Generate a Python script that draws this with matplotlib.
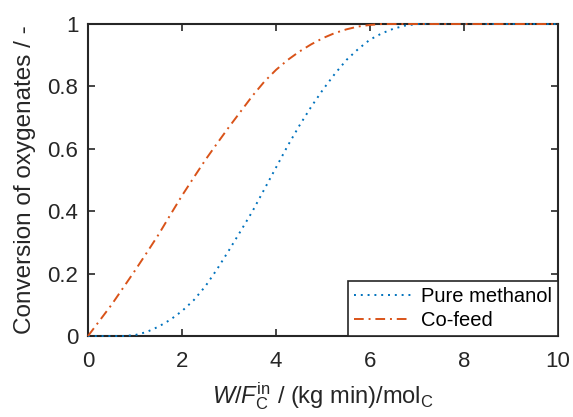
import matplotlib
matplotlib.use("Agg")
import matplotlib.pyplot as plt

# data
x_pure = [0, 0.5, 0.75, 1.0, 1.25, 1.5, 1.75, 2.0, 2.25, 2.5, 2.75, 3.0, 3.25, 3.5, 3.75, 4.0,
          4.25, 4.5, 4.75, 5.0, 5.25, 5.5, 5.75, 6.0, 6.25, 6.5, 6.75, 7.0, 8.0, 9.0, 10.0]
y_pure = [0, 0, 0, 0.003, 0.013, 0.03, 0.052, 0.08, 0.115, 0.16, 0.215, 0.275, 0.337, 0.40, 0.47, 0.54,
          0.61, 0.675, 0.735, 0.79, 0.84, 0.885, 0.92, 0.95, 0.97, 0.985, 0.995, 1.0, 1.0, 1.0, 1.0]

x_cofeed = [0, 0.25, 0.5, 0.75, 1.0, 1.25, 1.5, 1.75, 2.0, 2.25, 2.5, 2.75, 3.0, 3.25, 3.5, 3.75,
            4.0, 4.25, 4.5, 4.75, 5.0, 5.25, 5.5, 5.75, 6.0, 6.25, 7.0, 8.0, 9.0, 10.0]
y_cofeed = [0, 0.05, 0.10, 0.155, 0.21, 0.267, 0.325, 0.388, 0.45, 0.508, 0.565, 0.618, 0.67, 0.72, 0.77, 0.815,
            0.853, 0.885, 0.912, 0.935, 0.955, 0.971, 0.983, 0.992, 0.997, 1.0, 1.0, 1.0, 1.0, 1.0]

plt.rcParams['font.family'] = ['Liberation Sans', 'DejaVu Sans']
plt.rcParams['mathtext.fontset'] = 'custom'
plt.rcParams['mathtext.rm'] = 'Liberation Sans'
plt.rcParams['mathtext.it'] = 'Liberation Sans:italic'

axcol = '#262626'
fig = plt.figure(figsize=(5.73, 4.17), dpi=100)
ax = fig.add_axes([0.1536, 0.1942, 0.8202, 0.7482])

# lines on top of the box, like the original
ax.plot(x_pure, y_pure, color=(0, 0.447, 0.741), lw=1.4, dashes=(1, 2.5),
        label='Pure methanol', zorder=3, clip_on=False)
ax.plot(x_cofeed, y_cofeed, color=(0.85, 0.325, 0.098), lw=1.4, dashes=(5, 2.5, 1, 2.5),
        label='Co-feed', zorder=3, clip_on=False)

ax.set_xlim(0, 10)
ax.set_ylim(0, 1)
ax.set_xticks([0, 2, 4, 6, 8, 10])
ax.set_yticks([0, 0.2, 0.4, 0.6, 0.8, 1])
ax.set_yticklabels(['0', '0.2', '0.4', '0.6', '0.8', '1'])
ax.tick_params(direction='in', top=True, right=True, length=5, width=1.2,
               colors=axcol, labelsize=16, labelcolor='#262626')
ax.tick_params(axis='x', pad=11)
ax.tick_params(axis='y', pad=7)
for s in ax.spines.values():
    s.set_linewidth(1.5)
    s.set_color(axcol)

ax.set_xlabel(r'$W/F_\mathrm{C}^\mathrm{in}$ / (kg min)/mol$_\mathrm{C}$', fontsize=17,
              color='#262626', labelpad=6)
ax.set_ylabel('Conversion of oxygenates / -', fontsize=17.5, color='#262626', labelpad=8)

leg = ax.legend(loc='lower right', fontsize=14.5, fancybox=False, framealpha=1,
                edgecolor=axcol, borderaxespad=0, handlelength=2.8, handletextpad=0.5,
                borderpad=0.3, labelspacing=0.25)
leg.get_frame().set_linewidth(1.2)
leg.set_zorder(5)

fig.savefig('out.png', dpi=100)
